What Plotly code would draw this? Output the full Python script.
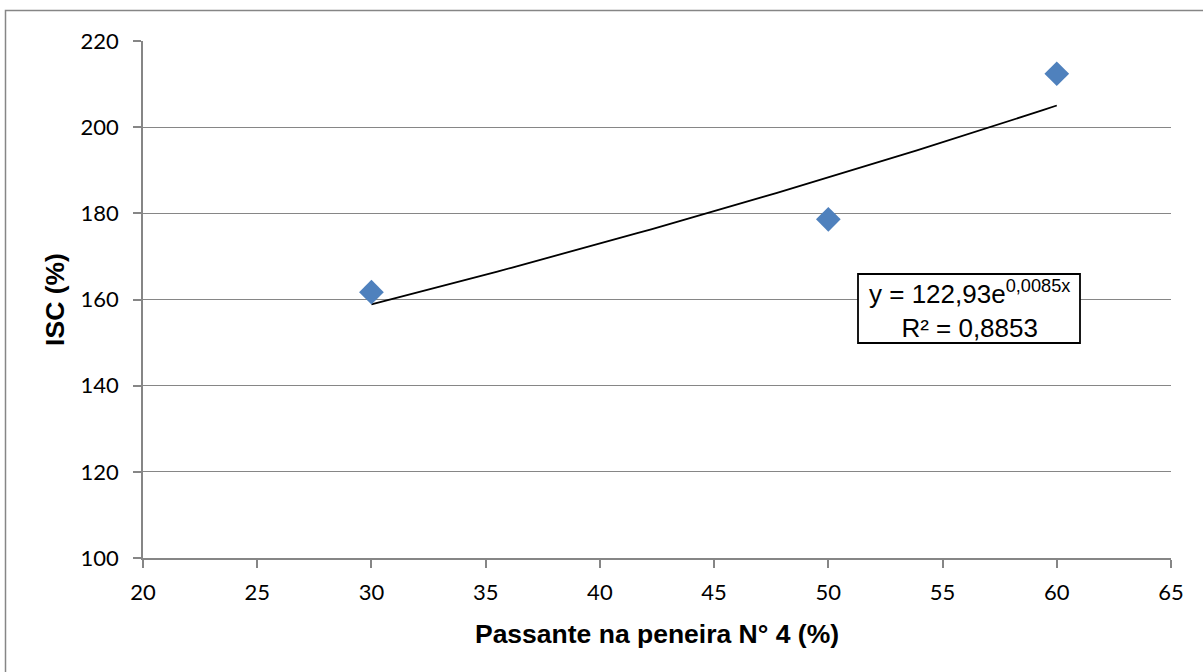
import numpy as np
import plotly.graph_objects as go

passante = [30, 50, 60]
isc = [161.7, 178.6, 212.4]
eq_text = "y = 122,93e<sup>0,0085x</sup><br>R² = 0,8853"
x_ticks = [20, 25, 30, 35, 40, 45, 50, 55, 60, 65]
y_ticks = [100, 120, 140, 160, 180, 200, 220]

# exponential trendline fitted to the data
b, ln_a = np.polyfit(passante, np.log(isc), 1)
xt = np.linspace(min(passante), max(passante), 50)
yt = np.exp(ln_a) * np.exp(b * xt)

W, H = 1203, 672
L, R, T, B = 143, 32, 41, 114
PW, PH = W - L - R, H - T - B


def px(x):
    return (x - L) / PW


def py(y):
    return 1 - (y - T) / PH


fig = go.Figure()
fig.add_trace(go.Scatter(x=xt, y=yt, mode="lines", line=dict(color="black", width=1.8),
                         showlegend=False, hoverinfo="skip"))
fig.add_trace(go.Scatter(x=passante, y=isc, mode="markers",
                         marker=dict(symbol="diamond", size=19, color="#4F81BD",
                                     line=dict(width=0)),
                         showlegend=False))

tick_font = dict(family="Lato, Carlito, Calibri, sans-serif", size=22, color="black")
title_font = dict(family="Liberation Sans, Arial, sans-serif", size=26.5, color="black")

fig.update_layout(
    width=W, height=H,
    margin=dict(l=L, r=R, t=T, b=B),
    paper_bgcolor="white", plot_bgcolor="white",
    font=dict(family="Lato, sans-serif", color="black", size=22),
    xaxis=dict(range=[20, 65], tickvals=x_ticks, showgrid=False, zeroline=False,
               showline=True, linecolor="#868686", linewidth=1.5,
               ticks="outside", ticklen=8, tickcolor="#868686", tickwidth=1.5,
               tickfont=tick_font, ticklabelstandoff=6,
               title=dict(text="<b>Passante na peneira N° 4 (%)</b>",
                          font=title_font, standoff=20)),
    yaxis=dict(range=[100, 220], tickvals=y_ticks, showgrid=True, gridcolor="#868686",
               gridwidth=1.3, zeroline=False,
               showline=True, linecolor="#868686", linewidth=1.5,
               ticks="outside", ticklen=8, tickcolor="#868686", tickwidth=1.5,
               tickfont=tick_font, ticklabelstandoff=10,
               title=dict(text="<b>ISC (%)</b>", font=title_font, standoff=8)),
)

# equation box
fig.add_shape(type="rect", xref="paper", yref="paper",
              x0=px(858), x1=px(1080), y0=py(343), y1=py(274),
              line=dict(color="black", width=1.8), fillcolor="white", layer="above")
fig.add_annotation(x=px(969), y=py(309), xref="paper", yref="paper",
                   text=eq_text, showarrow=False, align="center",
                   font=dict(family="Liberation Sans, Arial, sans-serif", size=26, color="black"),
                   borderpad=0, xanchor="center", yanchor="middle")

# outer chart border
fig.add_shape(type="rect", xref="paper", yref="paper",
              x0=px(5.5), x1=px(W + 10), y0=py(H + 10), y1=py(10.5),
              line=dict(color="#868686", width=1.5), layer="below")

fig.write_html("out.html", config={"displayModeBar": False},
               post_script="document.body.style.margin='0px';")
